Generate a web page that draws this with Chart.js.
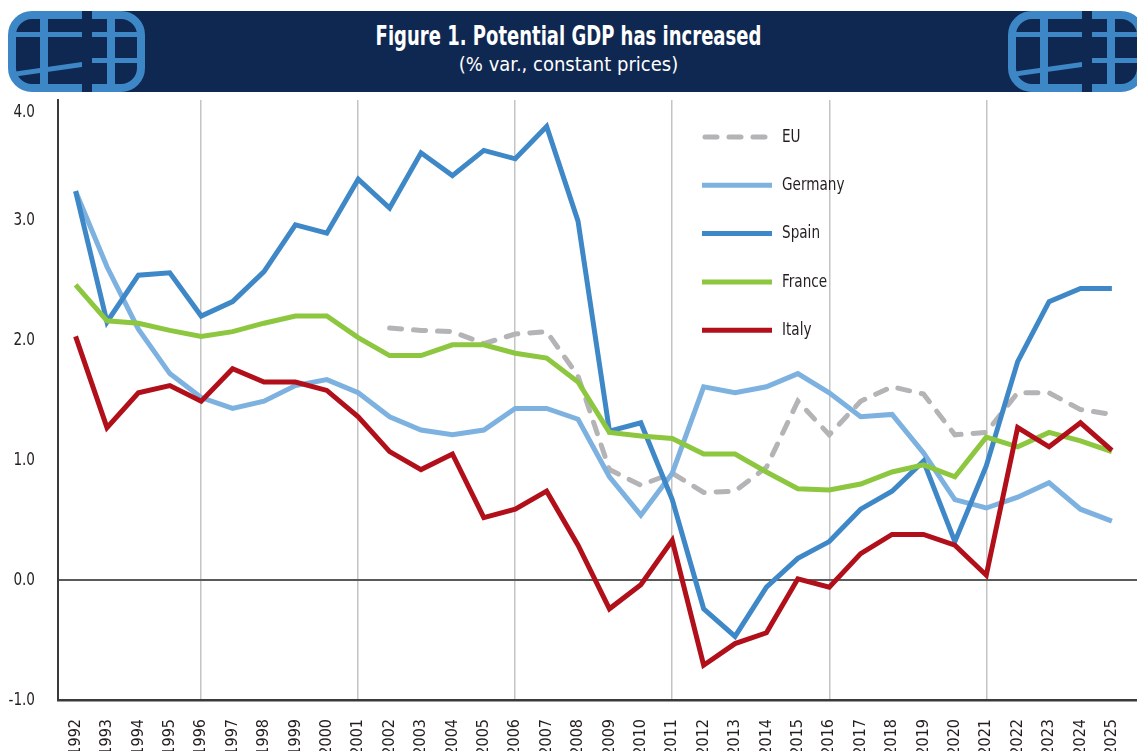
<!DOCTYPE html>
<html>
<head>
<meta charset="utf-8">
<script src="https://cdn.jsdelivr.net/npm/chart.js@4/dist/chart.umd.min.js"></script>
<style>
  html, body { margin: 0; padding: 0; background: #fff; overflow: hidden; width: 1137px; height: 751px; }
  #wrap { position: relative; width: 1137px; height: 751px; overflow: hidden; }
  #chart { position: absolute; left: 0; top: 0; }
  #band { position: absolute; left: 60px; top: 11px; width: 1000px; height: 81px; background: #0f2852; }
  .logo { position: absolute; top: 11px; width: 137px; height: 81px; }
  #title { position: absolute; left: 0; top: 20px; width: 1137px; text-align: center; color: #fff;
           font-family: "Liberation Sans Narrow", "DejaVu Sans Condensed", sans-serif; }
  #title .t1 { display: inline-block; font-size: 26px; font-weight: bold; line-height: 32px; transform: scaleX(0.77); }
  #title .t2 { display: inline-block; font-size: 20px; line-height: 24px; transform: scaleX(1.0); }
</style>
</head>
<body>
<div id="wrap">
  <canvas id="chart" width="1137" height="800"></canvas>
  <div id="band"></div>
  <svg class="logo" style="left:8px" viewBox="0 0 137 81">
    <rect x="4" y="4" width="129" height="73" rx="20" fill="#0f2852" stroke="#3d87c7" stroke-width="8"/>
    <rect x="74" y="0" width="10" height="81" fill="#0f2852"/>
    <rect x="4" y="21" width="70" height="5" fill="#3d87c7"/>
    <rect x="32" y="0" width="8" height="81" fill="#3d87c7"/>
    <polygon points="4,61 74,51 74,56 4,66" fill="#3d87c7"/>
    <rect x="99" y="0" width="8" height="81" fill="#3d87c7"/>
    <rect x="84" y="21" width="49" height="5" fill="#3d87c7"/>
    <rect x="84" y="47" width="49" height="5" fill="#3d87c7"/>
  </svg>
  <svg class="logo" style="left:1008px" viewBox="0 0 137 81">
    <rect x="4" y="4" width="129" height="73" rx="20" fill="#0f2852" stroke="#3d87c7" stroke-width="8"/>
    <rect x="74" y="0" width="10" height="81" fill="#0f2852"/>
    <rect x="4" y="21" width="70" height="5" fill="#3d87c7"/>
    <rect x="32" y="0" width="8" height="81" fill="#3d87c7"/>
    <polygon points="4,61 74,51 74,56 4,66" fill="#3d87c7"/>
    <rect x="99" y="0" width="8" height="81" fill="#3d87c7"/>
    <rect x="84" y="21" width="49" height="5" fill="#3d87c7"/>
    <rect x="84" y="47" width="49" height="5" fill="#3d87c7"/>
  </svg>
  <div id="title">
    <div class="t1">Figure 1. Potential GDP has increased</div><br>
    <div class="t2">(% var., constant prices)</div>
  </div>
</div>
<script>
const FONT = '"Liberation Sans Narrow", "DejaVu Sans Condensed", sans-serif';

// years on the x axis
const years = [1992, 1993, 1994, 1995, 1996, 1997, 1998, 1999, 2000, 2001,
  2002, 2003, 2004, 2005, 2006, 2007, 2008, 2009, 2010, 2011,
  2012, 2013, 2014, 2015, 2016, 2017, 2018, 2019, 2020, 2021,
  2022, 2023, 2024, 2025];

const yTicks = [-1, 0, 1, 2, 3, 4];

// potential GDP growth, % var.
const eu = [null, null, null, null, null, null, null, null, null, null,
  2.10, 2.08, 2.07, 1.97, 2.05, 2.07, 1.70, 0.92, 0.79, 0.89,
  0.73, 0.74, 0.94, 1.49, 1.21, 1.49, 1.61, 1.55, 1.21, 1.23,
  1.56, 1.56, 1.42, 1.38];
const germany = [3.24, 2.61, 2.09, 1.72, 1.52, 1.43, 1.49, 1.62, 1.67, 1.56,
  1.36, 1.25, 1.21, 1.25, 1.43, 1.43, 1.34, 0.86, 0.54, 0.89,
  1.61, 1.56, 1.61, 1.72, 1.56, 1.36, 1.38, 1.06, 0.67, 0.60,
  0.69, 0.81, 0.59, 0.49];
const spain = [3.24, 2.15, 2.54, 2.56, 2.20, 2.32, 2.57, 2.96, 2.89, 3.34,
  3.10, 3.56, 3.37, 3.58, 3.51, 3.78, 2.99, 1.24, 1.31, 0.67,
  -0.24, -0.47, -0.06, 0.18, 0.32, 0.59, 0.74, 0.99, 0.32, 0.95,
  1.82, 2.32, 2.43, 2.43];
const france = [2.46, 2.16, 2.14, 2.08, 2.03, 2.07, 2.14, 2.20, 2.20, 2.02,
  1.87, 1.87, 1.96, 1.96, 1.89, 1.85, 1.65, 1.23, 1.20, 1.18,
  1.05, 1.05, 0.90, 0.76, 0.75, 0.80, 0.90, 0.96, 0.86, 1.19,
  1.11, 1.23, 1.16, 1.07];
const italy = [2.03, 1.27, 1.56, 1.62, 1.49, 1.76, 1.65, 1.65, 1.58, 1.36,
  1.07, 0.92, 1.05, 0.52, 0.59, 0.74, 0.29, -0.24, -0.04, 0.33,
  -0.71, -0.53, -0.44, 0.01, -0.06, 0.22, 0.38, 0.38, 0.29, 0.04,
  1.27, 1.11, 1.31, 1.08];

const pts = arr => years.map((yr, i) => ({ x: yr, y: arr[i] }));

function line(label, arr, color, order, dash) {
  return {
    label: label,
    data: pts(arr),
    borderColor: color,
    backgroundColor: color,
    borderWidth: 5,
    borderDash: dash || [],
    borderCapStyle: dash ? 'round' : 'butt',
    pointRadius: 0,
    tension: 0,
    spanGaps: false,
    order: order
  };
}

// narrow text helper (the original uses a condensed face)
function narrowText(ctx, txt, x, y, size, align) {
  ctx.save();
  ctx.translate(x, y);
  ctx.scale(0.84, 1);
  ctx.fillStyle = '#231f20';
  ctx.font = size + 'px ' + FONT;
  ctx.textBaseline = 'middle';
  ctx.textAlign = align;
  ctx.fillText(txt, 0, 0);
  ctx.restore();
}

// legend inside the plot + y labels (top one sits a bit lower, as in the original)
const extras = {
  id: 'extras',
  afterDraw(chart) {
    const ctx = chart.ctx;
    ctx.save();
    chart.data.datasets.forEach((ds, i) => {
      const y = 137 + i * 48.3;
      ctx.beginPath();
      ctx.setLineDash(ds.borderDash);
      ctx.lineCap = ds.borderCapStyle;
      ctx.strokeStyle = ds.borderColor;
      ctx.lineWidth = 5;
      ctx.moveTo(ds.borderDash.length ? 705 : 702, y);
      ctx.lineTo(ds.borderDash.length ? 769 : 772, y);
      ctx.stroke();
      ctx.setLineDash([]);
      narrowText(ctx, ds.label, 782, y, 18, 'left');
    });
    const ys = chart.scales.y;
    yTicks.forEach(v => {
      let py = ys.getPixelForValue(v);
      if (v === ys.max) py = chart.chartArea.top + 12;
      narrowText(ctx, v.toFixed(1), 35, py, 18, 'right');
    });
    ctx.restore();
  }
};

new Chart(document.getElementById('chart'), {
  type: 'line',
  data: {
    datasets: [
      line('EU', eu, '#b4b4b7', 5, [12, 12]),
      line('Germany', germany, '#7db2e0', 4),
      line('Spain', spain, '#3f88c8', 3),
      line('France', france, '#8dc63f', 2),
      line('Italy', italy, '#b1101b', 1)
    ]
  },
  options: {
    responsive: false,
    animation: false,
    layout: { padding: { top: 100, right: 0, left: 0, bottom: 0 } },
    plugins: { legend: { display: false }, tooltip: { enabled: false } },
    scales: {
      x: {
        type: 'linear',
        min: 1991.44,
        max: 2025.8,
        afterFit: s => { s.height = 100; s.paddingLeft = 0; s.paddingRight = 0; },
        afterBuildTicks: s => { s.ticks = years.map(v => ({ value: v })); },
        ticks: {
          autoSkip: false,
          minRotation: 90,
          maxRotation: 90,
          padding: 19,
          color: '#231f20',
          font: { family: FONT, size: 16 },
          callback: v => String(v)
        },
        grid: {
          drawTicks: false,
          lineWidth: 1.5,
          color: c => (c.tick && c.tick.value % 5 === 1) ? '#c4c4c4' : 'transparent'
        },
        border: { display: true, color: '#3a3a3a', width: 2.5 }
      },
      y: {
        min: -1,
        max: 4,
        afterFit: s => { s.width = 58; s.paddingTop = 0; s.paddingBottom = 0; },
        afterBuildTicks: s => { s.ticks = yTicks.map(v => ({ value: v })); },
        ticks: { display: false },
        grid: {
          drawTicks: false,
          lineWidth: 2,
          color: c => (c.tick && c.tick.value === 0) ? '#5a5a5a' : 'transparent'
        },
        border: { display: true, color: '#3a3a3a', width: 2 }
      }
    }
  },
  plugins: [extras]
});
</script>
</body>
</html>
